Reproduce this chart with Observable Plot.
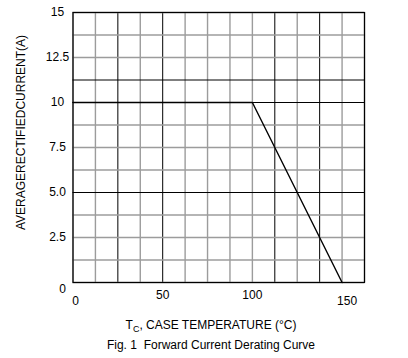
<!DOCTYPE html>
<html>
<head>
<meta charset="utf-8">
<script src="https://cdn.jsdelivr.net/npm/d3@7"></script>
<script src="https://cdn.jsdelivr.net/npm/@observablehq/plot@0.6"></script>
<style>
  body { margin: 0; background: #fff; font-family: "Liberation Sans", Arial, sans-serif; }
  #chart svg { display: block; }
  .cap { width: 408px; font-size: 12px; color: #000; text-align: center; padding-left: 14px; box-sizing: border-box; }
  .cap1 { margin-top: 5px; line-height: 17px; }
  .cap2 { margin-top: 2px; line-height: 19px; }
  .cap sub { font-size: 9px; line-height: 0; vertical-align: -3px; }
</style>
</head>
<body>
<div id="chart"></div>
<div class="cap cap1">T<sub>C</sub>, CASE TEMPERATURE (°C)</div>
<div class="cap cap2">Fig. 1&nbsp; Forward Current Derating Curve</div>
<script>
// Data
const tempC = [0, 100, 150];
const currentA = [10, 10, 0];
const xTicksMid = [50, 100];
const xTickStart = [0];
const xTickEnd = [150];
const yTicks = [2.5, 5, 7.5, 10, 12.5, 15];
const yTickLabels = ["2.5", "5.0", "7.5", "10", "12.5", "15"];
const yZeroTick = [0];
const xGrid = [0, 12.5, 25, 37.5, 50, 62.5, 75, 87.5, 100, 112.5, 125, 137.5, 150, 162.5];
const yGrid = [0, 1.25, 2.5, 3.75, 5, 6.25, 7.5, 8.75, 10, 11.25, 12.5, 13.75, 15];
const yTitle = "AVERAGERECTIFIEDCURRENT(A)";

const pts = tempC.map((t, i) => ({t, a: currentA[i]}));
const darkX = new Set([25, 50, 112.5, 137.5]);
const darkY = new Set([5, 10, 11.25]);

const chart = Plot.plot({
  width: 408,
  height: 312,
  marginLeft: 72.5,
  marginRight: 44,
  marginTop: 12,
  marginBottom: 30,
  style: {fontFamily: "'Liberation Sans', Arial, sans-serif", fontSize: "12px", background: "#fff", color: "#000"},
  x: {domain: [0, 162.5]},
  y: {domain: [0, 15]},
  marks: [
    Plot.ruleX(xGrid, {x: d => d, stroke: d => darkX.has(d) ? "#000" : "#9c9c9c", strokeWidth: d => darkX.has(d) ? 1 : 1.4}),
    Plot.ruleY(yGrid, {y: d => d, stroke: d => darkY.has(d) ? "#000" : "#9c9c9c", strokeWidth: d => darkY.has(d) ? 1 : 1.4}),
    Plot.frame({stroke: "#000", strokeWidth: 1.2}),
    Plot.line(pts, {x: "t", y: "a", stroke: "#000", strokeWidth: 1.4}),
    Plot.axisX(xTicksMid, {tickSize: 0, tickPadding: 8, label: null, fontSize: 12}),
    Plot.axisX(xTickStart, {tickSize: 0, tickPadding: 8, label: null, fontSize: 12, dx: 2.5, dy: 6}),
    Plot.axisX(xTickEnd, {tickSize: 0, tickPadding: 8, label: null, fontSize: 12, dx: 5, dy: 6}),
    Plot.axisY(yTicks, {tickSize: 0, tickPadding: 15.5, textAnchor: "middle", label: null, fontSize: 12,
      tickFormat: d => yTickLabels[yTicks.indexOf(d)]}),
    Plot.axisY(yZeroTick, {tickSize: 0, tickPadding: 10.5, textAnchor: "middle", label: null, fontSize: 12, dy: 6.5}),
    Plot.text([yTitle], {frameAnchor: "left", textAnchor: "middle", text: d => d, rotate: -90, dx: -51.5, dy: -15, fontSize: 12})
  ]
});
document.getElementById("chart").appendChild(chart);
</script>
</body>
</html>
